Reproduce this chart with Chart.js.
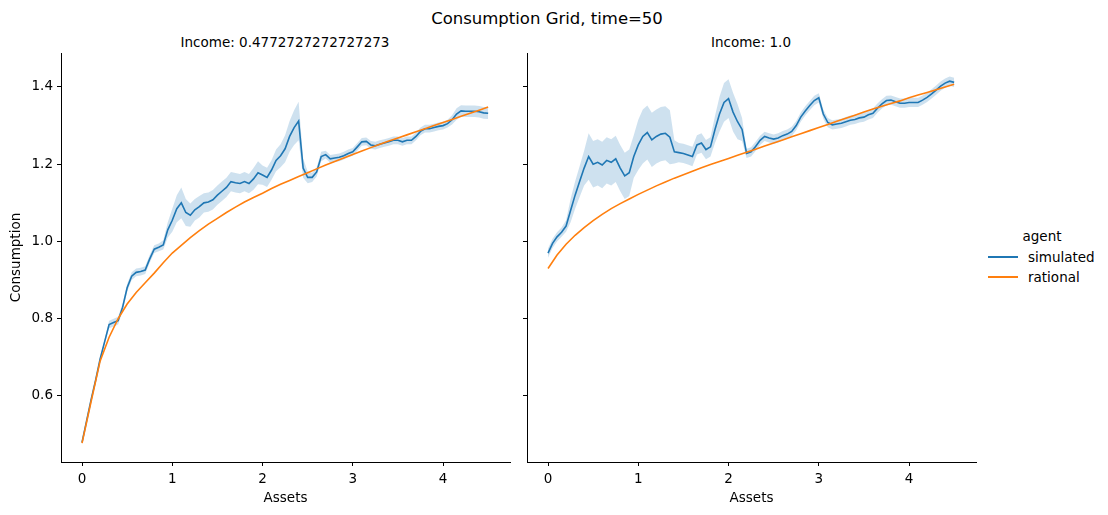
<!DOCTYPE html>
<html>
<head>
<meta charset="utf-8">
<script src="https://cdn.jsdelivr.net/npm/chart.js@4"></script>
<style>
  html, body { margin: 0; padding: 0; background: #fff; }
  body { width: 1108px; height: 515px; position: relative; overflow: hidden; font-family: "DejaVu Sans", sans-serif; color: #000; }
  .txt { position: absolute; white-space: nowrap; transform: translate(-50%, -50%); }
  canvas { position: absolute; }
  .leg-line { position: absolute; height: 2px; }
</style>
</head>
<body>
<div class="txt" id="suptitle" style="left:547px; top:18px; font-size:16.5px;"></div>
<div class="txt" id="t0" style="left:285px; top:42px; font-size:13.5px;"></div>
<div class="txt" id="t1" style="left:751px; top:42px; font-size:13.5px;"></div>
<canvas id="c0" width="520" height="485" style="left:0px; top:30px;"></canvas>
<canvas id="c1" width="466" height="485" style="left:520px; top:30px;"></canvas>
<div class="txt" id="legTitle" style="left:1042px; top:236px; font-size:13.5px;"></div>
<div class="leg-line" style="left:988px; top:256px; width:30px; background:#1f77b4;"></div>
<div class="leg-line" style="left:988px; top:276px; width:30px; background:#ff7f0e;"></div>
<div class="txt" id="leg0" style="left:1028px; top:257px; font-size:13.5px; transform:translate(0,-50%);"></div>
<div class="txt" id="leg1" style="left:1028px; top:277px; font-size:13.5px; transform:translate(0,-50%);"></div>
<script>
const figureTitle = "Consumption Grid, time=50";
const panelTitles = ["Income: 0.4772727272727273", "Income: 1.0"];
const legendTitle = "agent";
const seriesNames = ["simulated", "rational"];
const xLabel = "Assets";
const yLabel = "Consumption";
const xTicks = [0, 1, 2, 3, 4];
const yTicks = [0.6, 0.8, 1.0, 1.2, 1.4];

// asset grid of the simulated series
const simAssets = [0.00,0.05,0.10,0.15,0.20,0.25,0.30,0.35,0.40,0.45,0.50,0.55,0.60,0.65,0.70,0.75,0.80,0.85,0.90,0.95,
  1.00,1.05,1.10,1.15,1.20,1.25,1.30,1.35,1.40,1.45,1.50,1.55,1.60,1.65,1.70,1.75,1.80,1.85,1.90,1.95,
  2.00,2.05,2.10,2.15,2.20,2.25,2.30,2.35,2.40,2.45,2.50,2.55,2.60,2.65,2.70,2.75,2.80,2.85,2.90,2.95,
  3.00,3.05,3.10,3.15,3.20,3.25,3.30,3.35,3.40,3.45,3.50,3.55,3.60,3.65,3.70,3.75,3.80,3.85,3.90,3.95,
  4.00,4.05,4.10,4.15,4.20,4.25,4.30,4.35,4.40,4.45,4.50];

// Income 0.477 panel
const simLow = [0.480,0.535,0.590,0.640,0.695,0.740,0.785,0.790,0.795,0.830,0.880,0.910,0.920,0.922,0.926,0.955,0.980,0.985,0.991,1.030,
  1.055,1.085,1.100,1.075,1.068,1.082,1.090,1.100,1.102,1.108,1.120,1.130,1.140,1.155,1.152,1.150,1.155,1.150,1.162,1.178,
  1.172,1.166,1.185,1.210,1.222,1.240,1.272,1.295,1.312,1.190,1.166,1.166,1.180,1.220,1.225,1.214,1.216,1.218,1.222,1.228,
  1.232,1.245,1.258,1.259,1.250,1.248,1.252,1.255,1.258,1.262,1.262,1.258,1.262,1.262,1.272,1.285,1.292,1.292,1.295,1.298,
  1.300,1.305,1.315,1.330,1.338,1.337,1.337,1.337,1.336,1.333,1.332];
const bandLow = [0.005,0.005,0.005,0.005,0.005,0.006,0.010,0.010,0.010,0.010,0.010,0.010,0.010,0.010,0.010,0.010,0.010,0.010,0.012,0.020,
  0.030,0.035,0.040,0.035,0.030,0.028,0.028,0.025,0.025,0.025,0.025,0.025,0.025,0.025,0.025,0.025,0.025,0.025,0.028,0.030,
  0.025,0.025,0.025,0.028,0.030,0.035,0.040,0.045,0.050,0.025,0.015,0.012,0.012,0.012,0.010,0.010,0.010,0.010,0.010,0.010,
  0.010,0.010,0.010,0.010,0.010,0.010,0.010,0.010,0.010,0.010,0.010,0.010,0.010,0.010,0.010,0.010,0.010,0.010,0.010,0.010,
  0.010,0.010,0.012,0.015,0.015,0.015,0.015,0.015,0.015,0.015,0.015];

// Income 1.0 panel
const simHigh = [0.970,0.995,1.012,1.024,1.040,1.080,1.120,1.155,1.190,1.220,1.200,1.205,1.198,1.210,1.205,1.214,1.190,1.170,1.178,1.220,
  1.250,1.272,1.282,1.263,1.272,1.278,1.280,1.270,1.232,1.230,1.228,1.224,1.220,1.250,1.255,1.238,1.245,1.290,1.330,1.360,
  1.370,1.335,1.310,1.290,1.228,1.232,1.246,1.262,1.272,1.268,1.265,1.268,1.274,1.278,1.285,1.300,1.322,1.338,1.352,1.365,
  1.372,1.330,1.308,1.302,1.304,1.306,1.310,1.314,1.316,1.320,1.322,1.328,1.332,1.345,1.356,1.365,1.366,1.362,1.358,1.358,
  1.360,1.360,1.360,1.366,1.373,1.382,1.392,1.402,1.410,1.415,1.412];
const bandHigh = [0.012,0.012,0.012,0.012,0.015,0.030,0.035,0.040,0.045,0.060,0.060,0.060,0.060,0.060,0.060,0.060,0.060,0.060,0.060,0.055,
  0.065,0.070,0.070,0.070,0.070,0.070,0.070,0.070,0.030,0.025,0.025,0.025,0.025,0.025,0.025,0.025,0.025,0.035,0.045,0.050,
  0.050,0.050,0.045,0.030,0.012,0.012,0.012,0.012,0.012,0.012,0.012,0.012,0.012,0.012,0.012,0.012,0.012,0.012,0.012,0.012,
  0.012,0.012,0.012,0.012,0.012,0.012,0.012,0.012,0.012,0.012,0.012,0.012,0.012,0.012,0.012,0.012,0.012,0.012,0.012,0.012,
  0.012,0.012,0.012,0.012,0.012,0.012,0.012,0.012,0.012,0.012,0.012];

// rational agent, coarser grid
const ratAssets = [0.0,0.1,0.2,0.3,0.4,0.5,0.6,0.7,0.8,0.9,1.0,1.1,1.2,1.3,1.4,1.5,1.6,1.7,1.8,1.9,2.0,2.1,2.2,
  2.3,2.4,2.5,2.6,2.7,2.8,2.9,3.0,3.1,3.2,3.3,3.4,3.5,3.6,3.7,3.8,3.9,4.0,4.1,4.2,4.3,4.4,4.5];
const ratLow = [0.478,0.585,0.690,0.752,0.800,0.838,0.868,0.893,0.918,0.945,0.970,0.990,1.010,1.028,1.045,1.060,1.075,1.089,1.102,1.114,1.125,1.137,1.148,
  1.158,1.168,1.178,1.188,1.198,1.207,1.216,1.225,1.234,1.243,1.252,1.260,1.268,1.276,1.284,1.292,1.300,1.308,1.316,1.324,1.332,1.340,1.348];
const ratHigh = [0.930,0.965,0.993,1.016,1.036,1.054,1.070,1.085,1.098,1.110,1.122,1.133,1.144,1.154,1.164,1.173,1.182,1.191,1.199,1.207,1.215,1.223,1.231,
  1.239,1.247,1.255,1.263,1.271,1.279,1.287,1.295,1.303,1.311,1.319,1.327,1.335,1.343,1.350,1.357,1.364,1.372,1.379,1.386,1.393,1.400,1.407];

const BLUE = '#1f77b4', ORANGE = '#ff7f0e', BAND = 'rgba(31,119,180,0.22)';

document.getElementById('suptitle').textContent = figureTitle;
document.getElementById('t0').textContent = panelTitles[0];
document.getElementById('t1').textContent = panelTitles[1];
document.getElementById('legTitle').textContent = legendTitle;
document.getElementById('leg0').textContent = seriesNames[0];
document.getElementById('leg1').textContent = seriesNames[1];

function pts(xs, ys) { return xs.map((x, i) => ({ x: x, y: ys[i] })); }

function makePanel(id, sim, band, rat, showY) {
  const upper = sim.map((v, i) => v + band[i]);
  const lower = sim.map((v, i) => v - band[i]);
  const font = { family: 'DejaVu Sans', size: 13.5 };
  new Chart(document.getElementById(id), {
    type: 'line',
    data: {
      datasets: [
        { data: pts(simAssets, upper), borderWidth: 0, borderColor: 'rgba(0,0,0,0)', pointRadius: 0, fill: false, order: 3 },
        { data: pts(simAssets, lower), borderWidth: 0, borderColor: 'rgba(0,0,0,0)', pointRadius: 0, fill: '-1', backgroundColor: BAND, order: 3 },
        { label: seriesNames[0], data: pts(simAssets, sim), borderColor: BLUE, borderWidth: 1.6, pointRadius: 0, fill: false, order: 2 },
        { label: seriesNames[1], data: pts(ratAssets, rat), borderColor: ORANGE, borderWidth: 1.6, pointRadius: 0, fill: false, order: 1 }
      ]
    },
    options: {
      responsive: false,
      animation: false,
      devicePixelRatio: 1,
      layout: { padding: { top: 23, right: 10, bottom: 0, left: 0 } },
      plugins: { legend: { display: false }, tooltip: { enabled: false } },
      elements: { line: { tension: 0 } },
      scales: {
        x: {
          type: 'linear', min: -0.233, max: 4.742,
          afterBuildTicks: s => { s.ticks = xTicks.map(v => ({ value: v })); },
          afterFit: s => { s.height = 53; },
          grid: { display: true, drawOnChartArea: false, drawTicks: true, tickLength: 4, color: '#000' },
          border: { display: true, color: '#000', width: 1 },
          ticks: { color: '#000', font: font, padding: 5, maxRotation: 0, callback: v => String(v) },
          title: { display: true, text: xLabel, color: '#000', font: font, padding: { top: 0, bottom: 8 } }
        },
        y: {
          type: 'linear', min: 0.429, max: 1.488,
          afterBuildTicks: s => { s.ticks = yTicks.map(v => ({ value: v })); },
          afterFit: s => { s.width = showY ? 61 : 7; },
          grid: { display: true, drawOnChartArea: false, drawTicks: true, tickLength: 4, color: '#000' },
          border: { display: true, color: '#000', width: 1 },
          ticks: { display: showY, color: '#000', font: font, padding: 4, callback: v => Number(v).toFixed(1) },
          title: { display: showY, text: yLabel, color: '#000', font: font, padding: { top: 8, bottom: 0 } }
        }
      }
    }
  });
}

makePanel('c0', simLow, bandLow, ratLow, true);
makePanel('c1', simHigh, bandHigh, ratHigh, false);
</script>
</body>
</html>
